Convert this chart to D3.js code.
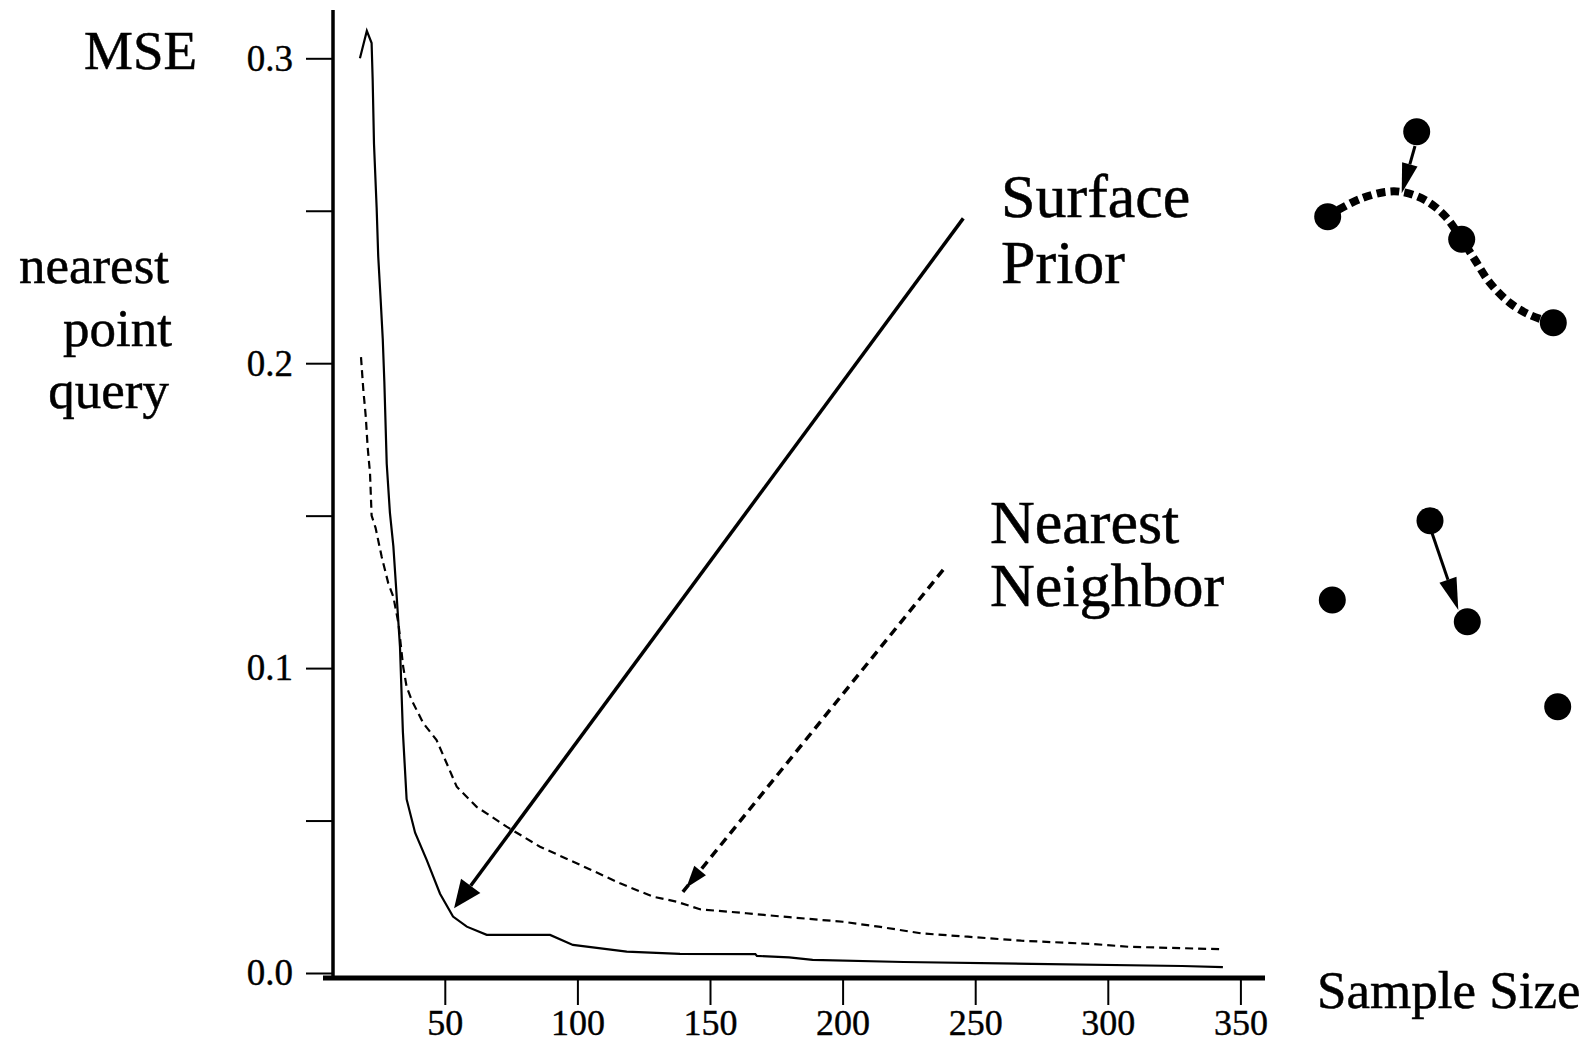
<!DOCTYPE html>
<html><head><meta charset="utf-8">
<script src="https://cdn.jsdelivr.net/npm/d3@7"></script>
<style>html,body{margin:0;padding:0;background:#fff;} svg{display:block;}</style>
</head><body>
<svg id="chart" width="1590" height="1045"></svg>
<script>
// ---- data ----
const xTicks = [50, 100, 150, 200, 250, 300, 350];
const yTicks = [0, 0.05, 0.1, 0.15, 0.2, 0.25, 0.3];
const yTickLabels = ["0.0", "", "0.1", "", "0.2", "", "0.3"];

const surfaceX = [18.0, 20.6, 22.4, 22.8, 23.3, 24.3, 24.9, 25.8, 26.6, 27.2, 28.1, 29.3, 30.6, 31.9, 33.1, 34.2, 35.6, 38.8, 43.2, 48.2, 53.1, 58.3, 65.8, 89.7, 98.3, 118.6, 138.7, 167.1, 167.7, 179.8, 188.7, 223, 271.4, 328, 343.4];
const surfaceY = [0.300, 0.309, 0.305, 0.293, 0.272, 0.251, 0.235, 0.221, 0.208, 0.194, 0.167, 0.151, 0.140, 0.123, 0.107, 0.079, 0.057, 0.046, 0.037, 0.026, 0.0185, 0.0152, 0.0125, 0.0125, 0.0092, 0.0070, 0.0063, 0.0062, 0.0056, 0.0051, 0.0043, 0.0036, 0.0030, 0.0023, 0.0019];

const nnX = [18.4, 19.3, 20.2, 20.9, 21.8, 22.4, 23.9, 26.2, 28.7, 30.6, 32.5, 34.3, 35.6, 37.5, 41.9, 46.9, 50.7, 54.5, 62.0, 73.3, 85.9, 99.7, 116.1, 128.6, 137.4, 146.2, 163.7, 179.9, 200.1, 213.6, 229.7, 247.2, 267.4, 294.4, 307.8, 342.8];
const nnY = [0.202, 0.191, 0.1825, 0.1726, 0.1639, 0.150, 0.146, 0.1365, 0.1278, 0.1234, 0.1148, 0.1005, 0.0939, 0.0895, 0.0819, 0.0764, 0.0688, 0.0611, 0.0545, 0.048, 0.0414, 0.036, 0.0294, 0.025, 0.0234, 0.0209, 0.0196, 0.0183, 0.0168, 0.0152, 0.013, 0.0119, 0.0106, 0.0095, 0.0086, 0.0078];

// annotation arrows in data coordinates [x, y]
const surfaceArrowFrom = [245.5, 0.2475];
const surfaceArrowTo = [53.5, 0.0212];
const nnArrowFrom = [237.9, 0.1322];
const nnArrowTo = [139.4, 0.0262];

// illustration glyphs (local diagram units)
const surfDots = [[106.7, 21.7], [17.7, 106.7], [151.7, 129.3], [243.3, 212.7]];
const surfCurve = [[28, 100], [50, 89], [75, 82], [92, 82], [115, 90], [135, 106], [151.7, 129.3], [165, 150], [180, 173], [200, 193], [220, 205], [243, 213]];
const surfPointer = [[105, 36], [91.7, 83.3]];
const nnDots = [[120, 30.7], [22.3, 110], [157.3, 131.7], [247.7, 216.7]];
const nnPointer = [[122, 43], [148.3, 120]];

// ---- drawing ----
const FONT = "'Liberation Serif','Times New Roman',Times,serif";
const svg = d3.select("#chart");
const x = d3.scaleLinear().domain([50, 350]).range([444.8, 1240.4]);
const y = d3.scaleLinear().domain([0, 0.3]).range([973, 58.3]);

// axis frame
svg.append("line").attr("x1", 333).attr("x2", 333).attr("y1", 10).attr("y2", 980)
  .attr("stroke", "#000").attr("stroke-width", 3.5);
svg.append("line").attr("x1", 323).attr("x2", 1265).attr("y1", 978).attr("y2", 978)
  .attr("stroke", "#000").attr("stroke-width", 5);

// y axis ticks
const gy = svg.append("g").attr("transform", "translate(333,0)")
  .call(d3.axisLeft(y).tickValues(yTicks).tickSize(27).tickPadding(13)
    .tickFormat((d, i) => yTickLabels[i]));
gy.select(".domain").remove();
gy.selectAll(".tick line").attr("stroke", "#000").attr("stroke-width", 2);
gy.selectAll(".tick text").attr("font-family", FONT).attr("font-size", 37).attr("fill", "#000")
  .attr("stroke", "#000").attr("stroke-width", 0.4);

// x axis ticks
const gx = svg.append("g").attr("transform", "translate(0,978)")
  .call(d3.axisBottom(x).tickValues(xTicks).tickSize(27).tickFormat(d3.format("d")));
gx.select(".domain").remove();
gx.selectAll(".tick line").attr("stroke", "#000").attr("stroke-width", 2);
gx.selectAll(".tick text").attr("font-family", FONT).attr("font-size", 36).attr("fill", "#000")
  .attr("stroke", "#000").attr("stroke-width", 0.4)
  .attr("y", 57).attr("dy", 0);

// curves
const line = d3.line().x(d => x(d[0])).y(d => y(d[1]));
svg.append("path").datum(surfaceX.map((v, i) => [v, surfaceY[i]]))
  .attr("d", line).attr("fill", "none").attr("stroke", "#000").attr("stroke-width", 2.2);
svg.append("path").datum(nnX.map((v, i) => [v, nnY[i]]))
  .attr("d", line).attr("fill", "none").attr("stroke", "#000").attr("stroke-width", 2.2)
  .attr("stroke-dasharray", "8,5");

// arrow helper
function arrow(g, p0, p1, opt) {
  const dx = p1[0] - p0[0], dy = p1[1] - p0[1];
  const L = Math.hypot(dx, dy), ux = dx / L, uy = dy / L, nx = -uy, ny = ux;
  const tipOff = opt.tipOffset || 0;
  const tip = [p1[0] - ux * tipOff, p1[1] - uy * tipOff];
  const base = [tip[0] - ux * opt.headLen, tip[1] - uy * opt.headLen];
  const lineEnd = opt.lineToTip ? p1 : base;
  g.append("line").attr("x1", p0[0]).attr("y1", p0[1]).attr("x2", lineEnd[0]).attr("y2", lineEnd[1])
    .attr("stroke", "#000").attr("stroke-width", opt.width)
    .attr("stroke-dasharray", opt.dash || null);
  g.append("path").attr("d", d3.line()([tip,
      [base[0] + nx * opt.headW, base[1] + ny * opt.headW],
      [base[0] - nx * opt.headW, base[1] - ny * opt.headW]]) + "Z")
    .attr("fill", "#000");
}

const ann = svg.append("g");
arrow(ann, [x(surfaceArrowFrom[0]), y(surfaceArrowFrom[1])], [x(surfaceArrowTo[0]), y(surfaceArrowTo[1])],
  { width: 3.5, headLen: 28, headW: 12 });
arrow(ann, [x(nnArrowFrom[0]), y(nnArrowFrom[1])], [x(nnArrowTo[0]), y(nnArrowTo[1])],
  { width: 3.5, headLen: 22, headW: 7.5, tipOffset: 7, lineToTip: true, dash: "9,6" });

// text labels
function label(txt, px, py, size, anchor) {
  svg.append("text").attr("x", px).attr("y", py).attr("font-family", FONT)
    .attr("font-size", size).attr("text-anchor", anchor || "start").attr("fill", "#000")
    .attr("stroke", "#000").attr("stroke-width", 0.5).text(txt);
}
label("MSE", 84, 69, 55);
label("nearest", 169, 283, 53, "end");
label("point", 172, 346, 53, "end");
label("query", 169, 408, 53, "end");
label("Surface", 1001, 217, 62);
label("Prior", 1001, 283, 62);
label("Nearest", 990, 543, 62);
label("Neighbor", 990, 606, 62);
label("Sample Size", 1317, 1008, 53);

// illustrations
function diagram(ox, oy) {
  return {
    sx: d3.scaleLinear().domain([0, 260]).range([ox, ox + 260]),
    sy: d3.scaleLinear().domain([0, 240]).range([oy, oy + 240])
  };
}
const d1 = diagram(1310, 110);
const g1 = svg.append("g");
g1.append("path").datum(surfCurve)
  .attr("d", d3.line().x(d => d1.sx(d[0])).y(d => d1.sy(d[1])).curve(d3.curveCatmullRom))
  .attr("fill", "none").attr("stroke", "#000").attr("stroke-width", 8).attr("stroke-dasharray", "9,5");
arrow(g1, [d1.sx(surfPointer[0][0]), d1.sy(surfPointer[0][1])], [d1.sx(surfPointer[1][0]), d1.sy(surfPointer[1][1])],
  { width: 3, headLen: 30, headW: 8 });
g1.selectAll("circle").data(surfDots).join("circle")
  .attr("cx", d => d1.sx(d[0])).attr("cy", d => d1.sy(d[1])).attr("r", 13.5).attr("fill", "#000");

const d2 = diagram(1310, 490);
const g2 = svg.append("g");
arrow(g2, [d2.sx(nnPointer[0][0]), d2.sy(nnPointer[0][1])], [d2.sx(nnPointer[1][0]), d2.sy(nnPointer[1][1])],
  { width: 3, headLen: 32, headW: 9 });
g2.selectAll("circle").data(nnDots).join("circle")
  .attr("cx", d => d2.sx(d[0])).attr("cy", d => d2.sy(d[1])).attr("r", 13.5).attr("fill", "#000");
</script>
</body></html>
